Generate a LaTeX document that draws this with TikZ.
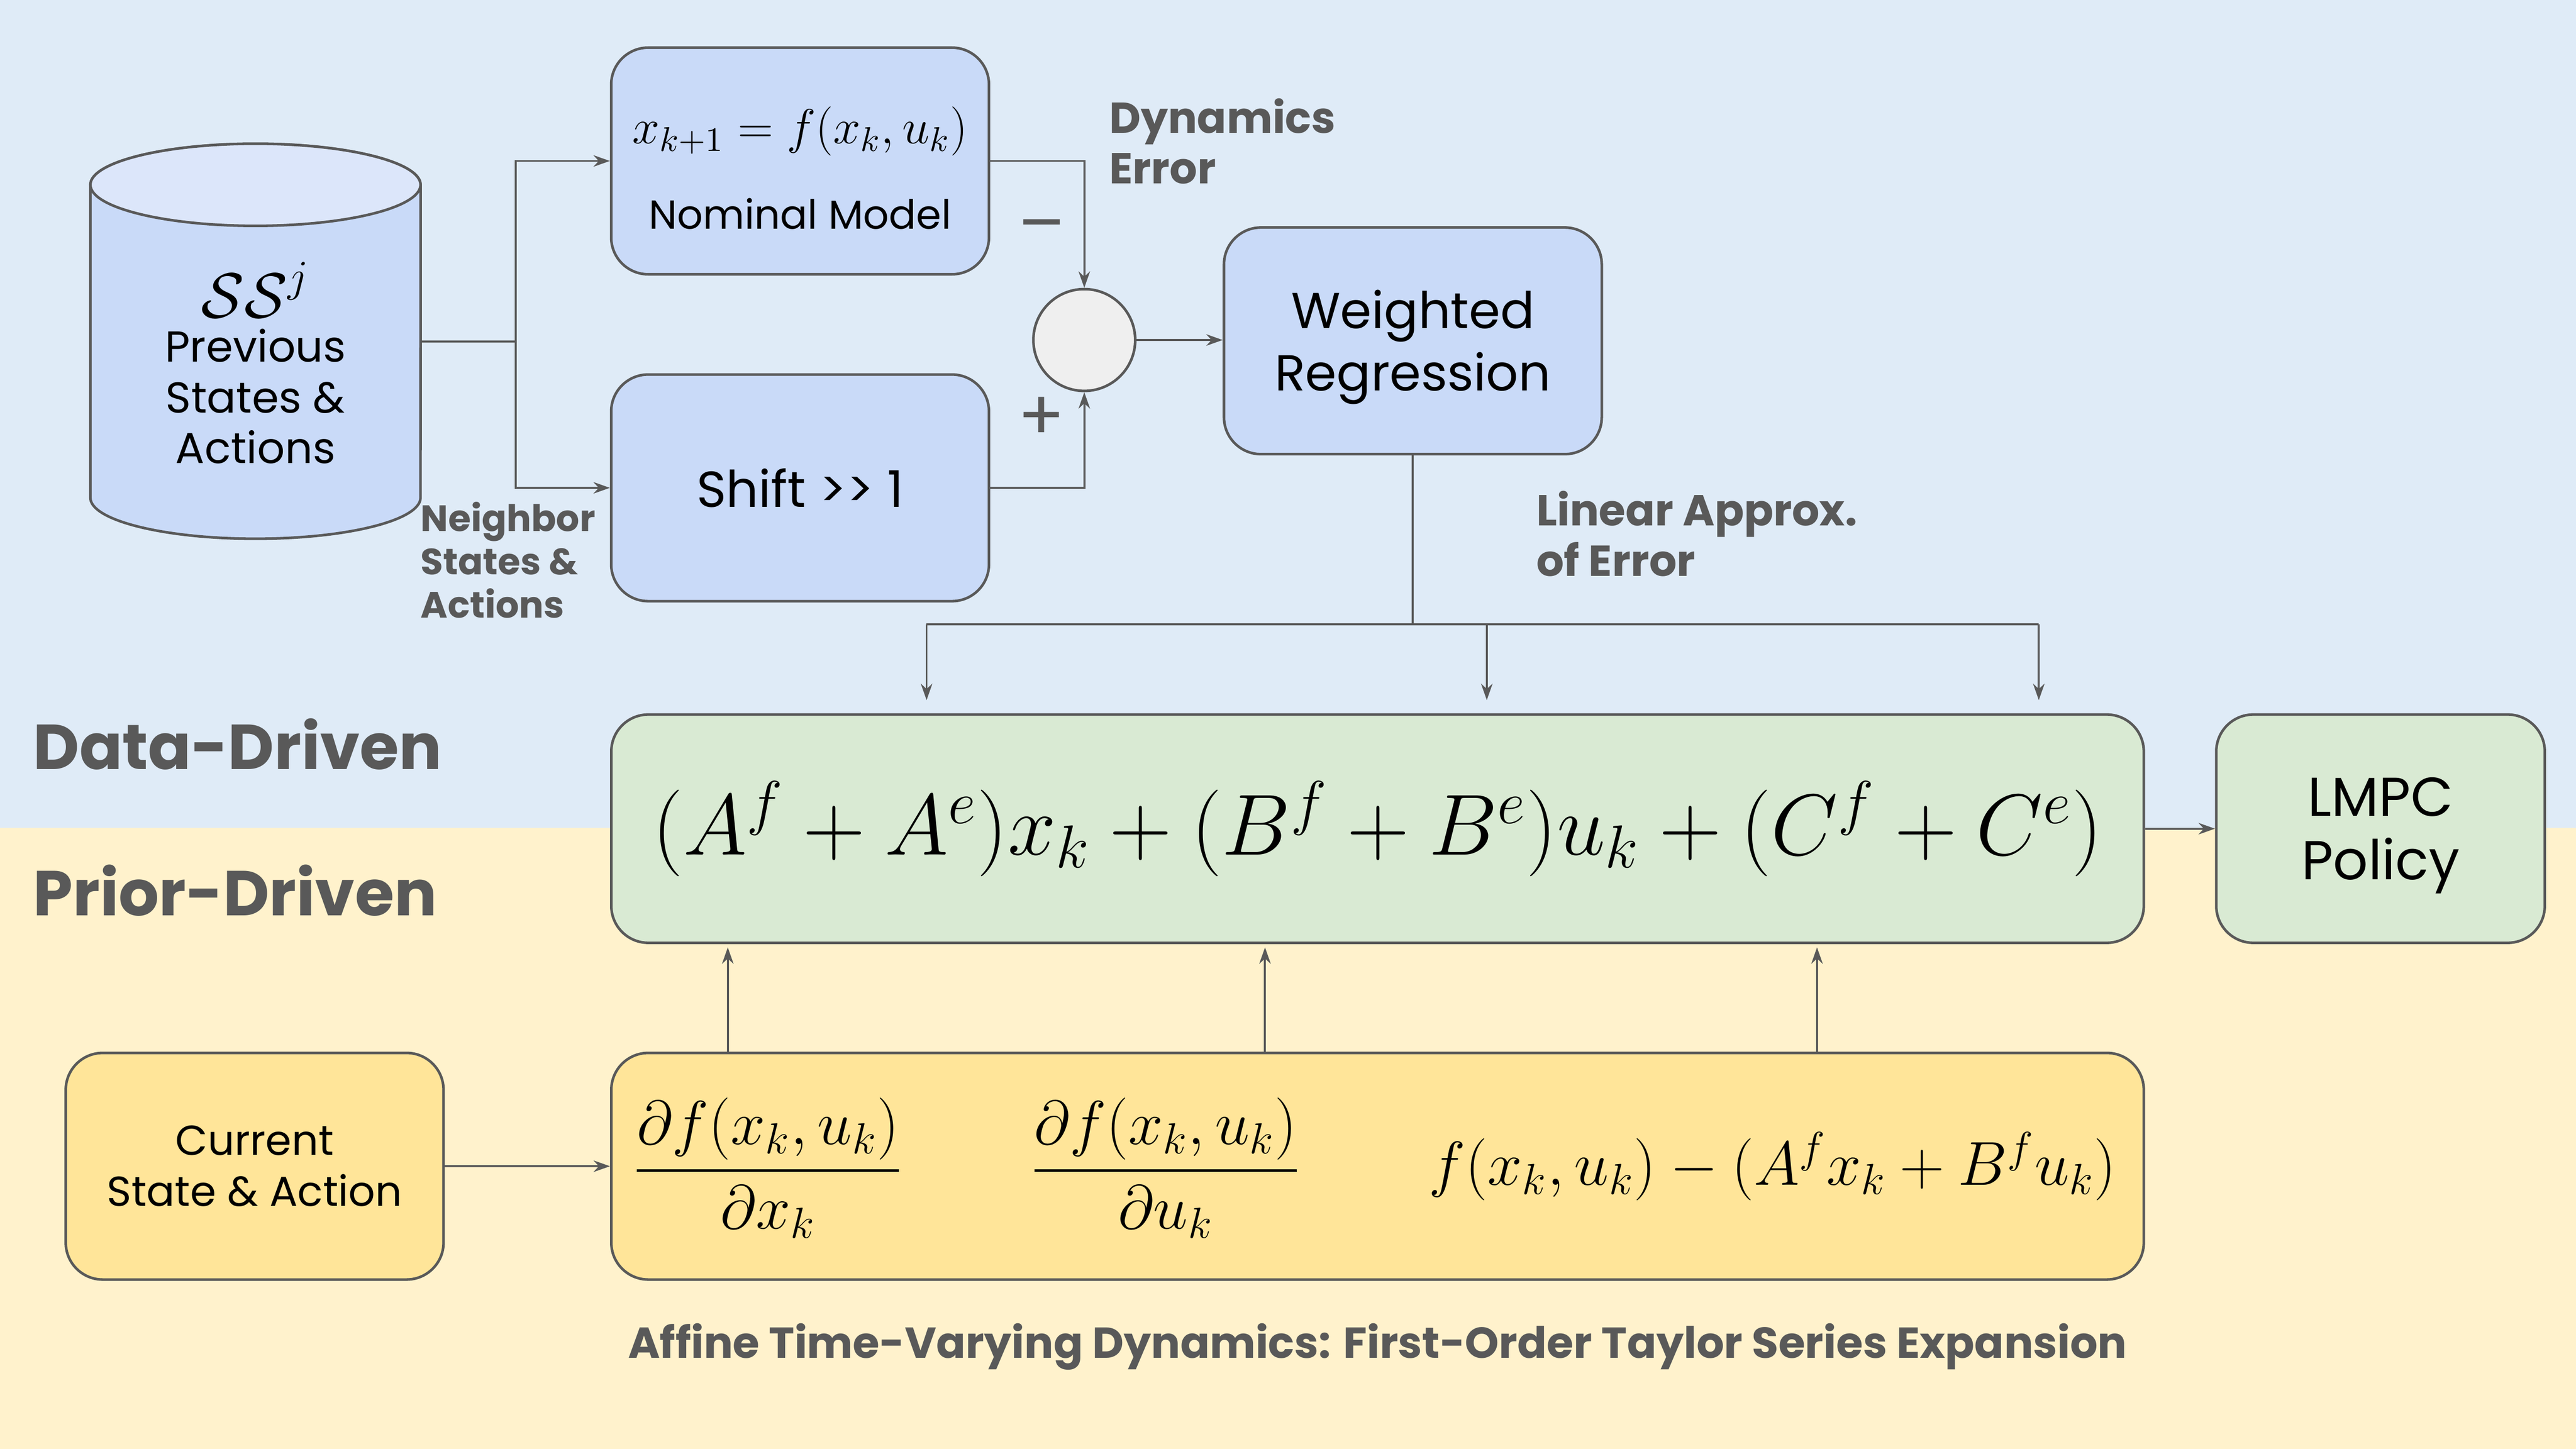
\RequirePackage{fix-cm}
\documentclass[tikz,border=0pt]{standalone}
\usepackage[no-math]{fontspec}
\setmainfont{Poppins}
\usepackage{amsmath}
\usetikzlibrary{arrows.meta,shapes.geometric,positioning}

\begin{document}
\begin{tikzpicture}[x=0.02cm,y=-0.02cm,
  box/.style={draw=linegray,line width=0.9pt,rounded corners=0.45cm,
    minimum width=4.6cm,minimum height=2.76cm,align=center,
    font=\fontsize{14}{17.6}\selectfont},
  bigbox/.style={box,font=\fontsize{17.5}{21.5}\selectfont},
  note/.style={text=labelgray,font=\bfseries\fontsize{15}{17.6}\selectfont,
    align=left,anchor=west},
  sign/.style={text=linegray,font=\fontsize{24}{28}\selectfont},
  link/.style={draw=linegray,line width=0.7pt},
  arrow/.style={link,-{Stealth[length=0.2cm,width=0.14cm]}}]
 \definecolor{bgblue}{HTML}{DFEBF7}
 \definecolor{bgyellow}{HTML}{FFF2CC}
 \definecolor{boxblue}{HTML}{C9DAF8}
 \definecolor{topblue}{HTML}{DCE6FA}
 \definecolor{boxgreen}{HTML}{D9EAD3}
 \definecolor{boxyellow}{HTML}{FFE599}
 \definecolor{sumgray}{HTML}{EFEFEF}
 \definecolor{linegray}{HTML}{595959}
 \definecolor{labelgray}{HTML}{595959}
 % two bands
 \fill[bgblue] (0,0) rectangle (1568,504);
 \fill[bgyellow] (0,504) rectangle (1568,882);
 \useasboundingbox (0,0) rectangle (1568,882);
 \node[note,font=\bfseries\fontsize{22}{26}\selectfont] (datalbl) at (14,453) {Data-Driven};
 \node[note,font=\bfseries\fontsize{22}{26}\selectfont] (priorlbl) at (14,542) {Prior-Driven};

 % data-driven part
 \path[fill=boxblue,draw=linegray,line width=0.9pt]
   (55,112.5) -- (55,303) arc[start angle=180,end angle=360,x radius=2.01cm,y radius=0.5cm]
   -- (256,112.5) arc[start angle=0,end angle=180,x radius=2.01cm,y radius=0.5cm] -- cycle;
 \path[fill=topblue,draw=linegray,line width=0.9pt]
   (155.5,112.5) ellipse[x radius=2.01cm,y radius=0.5cm];
 \node[minimum width=4.02cm,align=center,font=\fontsize{15}{17.6}\selectfont] (db) at (155.5,221)
   {{\fontsize{22}{26}\selectfont$\mathcal{SS}^j$}\\[-0.08cm]Previous\\States \&\\Actions};
 \node[box,fill=boxblue] (nominal) at (487,98)
   {\rule{0pt}{0.62cm}{\fontsize{17}{20}\selectfont$x_{k+1} = f(x_k,u_k)$}\\[0.42cm]Nominal Model};
 \node[bigbox,fill=boxblue] (shift) at (487,297) {Shift {>}{>} 1};
 \node[circle,draw=linegray,line width=0.9pt,fill=sumgray,
   minimum size=1.24cm] (sum) at (660,207) {};
 \node[bigbox,fill=boxblue] (regress) at (860,207.5) {\rule{0pt}{0.62cm}Weighted\\Regression};
 \node[box,fill=boxgreen,minimum width=18.66cm,minimum height=2.78cm] (linear) at (838.5,504.5)
   {\fontsize{30}{34}\selectfont$(A^f + A^e)x_k + (B^f + B^e)u_k + (C^f + C^e)$};
 \node[box,fill=boxgreen,minimum width=4cm,minimum height=2.78cm,
   font=\fontsize{19}{22}\selectfont] (policy) at (1449,504.5) {\rule{0pt}{0.64cm}LMPC\\Policy};

 % prior-driven part
 \node[box,fill=boxyellow,font=\fontsize{14.5}{17.6}\selectfont] (current) at (155,710) {Current\\State \& Action};
 \node[box,fill=boxyellow,minimum width=18.66cm] (taylor) at (838.5,710) {};
 \node (dfdx) at (467.5,711) {\fontsize{21.5}{24}\selectfont$\dfrac{\partial f(x_k,u_k)}{\partial x_k}$};
 \node (dfdu) at (709.5,711) {\fontsize{21.5}{24}\selectfont$\dfrac{\partial f(x_k,u_k)}{\partial u_k}$};
 \node (resid) at (1079,710) {\fontsize{21.5}{24}\selectfont$f(x_k,u_k) - (A^f x_k + B^f u_k)$};

 % labels
 \node[note] (dynlbl) at (669,86) {Dynamics\\Error};
 \node[note,font=\bfseries\fontsize{12.7}{15}\selectfont] (nbrlbl) at (250,341) {Neighbor\\States \&\\Actions};
 \node[note] (errlbl) at (929,325) {Linear Approx.\\of Error};
 \node[text=labelgray,font=\bfseries\fontsize{15}{18}\selectfont] (atvlbl) at (838.5,820)
   {Affine Time-Varying Dynamics: First-Order Taylor Series Expansion};
 \node[sign] (minus) at (634,142) {\textendash};
 \node[sign] (plus) at (634,255) {+};

 % connectors
 \coordinate (split) at (314,208);
 \draw[link] (db.east |- split) -- (split);
 \draw[arrow] (split) |- (nominal.west);
 \draw[arrow] (split) |- (shift.west);
 \draw[arrow] (nominal.east) -| (sum.north);
 \draw[arrow] (shift.east) -| (sum.south);
 \draw[arrow] (sum) -- (regress.west |- sum);
 \coordinate (bus) at (860,380);
 \draw[link] (regress.south) -- (bus);
 \draw[link] (564,380) -- (1241,380);
 \foreach \xp in {564,905,1241} {
   \draw[arrow,shorten >=0.16cm] (\xp,380) -- (linear.north -| \xp,0);
 }
 \foreach \xp in {443,770,1106} {
   \draw[arrow,shorten >=0.04cm] (taylor.north -| \xp,0) -- (linear.south -| \xp,0);
 }
 \draw[arrow] (current) -- (taylor);
 \draw[arrow] (linear.east) -- (policy.west |- linear.east);
\end{tikzpicture}
\end{document}
